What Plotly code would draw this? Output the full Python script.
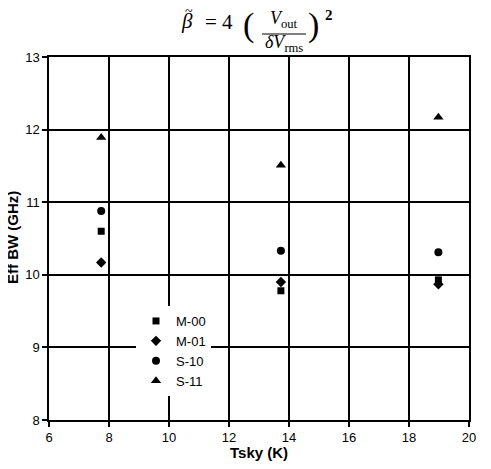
import plotly.graph_objs as go

# receiver data
tsky_m00 = [7.74, 13.73, 18.98]
bw_m00 = [10.60, 9.78, 9.93]
tsky_m01 = [7.74, 13.73, 18.98]
bw_m01 = [10.17, 9.90, 9.87]
tsky_s10 = [7.74, 13.73, 18.98]
bw_s10 = [10.88, 10.33, 10.31]
tsky_s11 = [7.74, 13.73, 18.98]
bw_s11 = [11.89, 11.51, 12.17]

series_names = ['M-00', 'M-01', 'S-10', 'S-11']
x_ticks = [6, 8, 10, 12, 14, 16, 18, 20]
y_ticks = [8, 9, 10, 11, 12, 13]

# the page body has an 8px margin, so the figure is drawn 8px in from the window corner
OFF = 8
W, H = 491 - OFF, 469 - OFF
ML, MR, MT, MB = 49 - OFF, 22, 57 - OFF, 49
PW, PH = W - ML - MR, H - MT - MB


def px(x):
    # window pixel -> paper x
    return (x - OFF - ML) / PW


def py(y):
    # window pixel -> paper y
    return (H - MB - (y - OFF)) / PH


styles = [('square', 7), ('diamond', 8), ('circle', 8), ('triangle-up', 9)]
xs = [tsky_m00, tsky_m01, tsky_s10, tsky_s11]
ys = [bw_m00, bw_m01, bw_s10, bw_s11]

data = []
for name, (sym, sz), x, y in zip(series_names, styles, xs, ys):
    data.append(go.Scatter(
        x=x, y=y, mode='markers', name=name,
        marker=dict(symbol=sym, size=sz, color='black')
    ))

serif = dict(family='Liberation Serif, DejaVu Serif, serif', color='black')
sans = dict(family='Liberation Sans, Arial, sans-serif', color='black')
annotations = [
    dict(text='<i>β</i>', x=px(187), y=py(21), font=dict(size=21, **serif)),
    dict(text='~', x=px(189), y=py(12), font=dict(size=14, **serif)),
    dict(text='= 4', x=px(219), y=py(22), font=dict(size=21, **serif)),
    dict(text='(', x=px(248), y=py(25), font=dict(size=34, **serif)),
    dict(text='<i>V</i><sub>out</sub>', x=px(284), y=py(20), font=dict(size=18, **serif)),
    dict(text='<i>δV</i><sub>rms</sub>', x=px(284), y=py(44), font=dict(size=18, **serif)),
    dict(text=')', x=px(313), y=py(25), font=dict(size=34, **serif)),
    dict(text='<b>2</b>', x=px(329), y=py(15), font=dict(size=15, **serif)),
    dict(text='<b>Tsky (K)</b>', x=px(259), y=py(452), font=dict(size=15, **sans)),
    dict(text='<b>Eff BW (GHz)</b>', x=px(12), y=py(238), textangle=-90,
         font=dict(size=15, **sans)),
]
for a in annotations:
    a.update(xref='paper', yref='paper', showarrow=False,
             xanchor='center', yanchor='middle')

shapes = [dict(type='line', xref='paper', yref='paper',
               x0=px(262), x1=px(306), y0=py(34), y1=py(34),
               line=dict(color='black', width=1))]

axis_common = dict(
    showgrid=True, gridcolor='black', gridwidth=1.5,
    showline=True, linecolor='black', linewidth=1.5, mirror=True,
    ticks='outside', ticklen=5, tickcolor='black', tickwidth=1.5,
    zeroline=False, tickfont=dict(size=13, color='black'),
    automargin=False
)

layout = go.Layout(
    width=W, height=H,
    margin=dict(l=ML, r=MR, t=MT, b=MB),
    paper_bgcolor='white', plot_bgcolor='white',
    font=sans,
    xaxis=dict(range=[6, 20], tickvals=x_ticks, **axis_common),
    yaxis=dict(range=[8, 13], tickvals=y_ticks, **axis_common),
    legend=dict(x=px(136), y=py(351), xanchor='left', yanchor='middle',
                bgcolor='white', borderwidth=0, font=dict(size=13),
                tracegroupgap=0),
    showlegend=True,
    annotations=annotations,
    shapes=shapes,
)

fig = go.Figure(data=data, layout=layout)
fig.write_html('out.html')
